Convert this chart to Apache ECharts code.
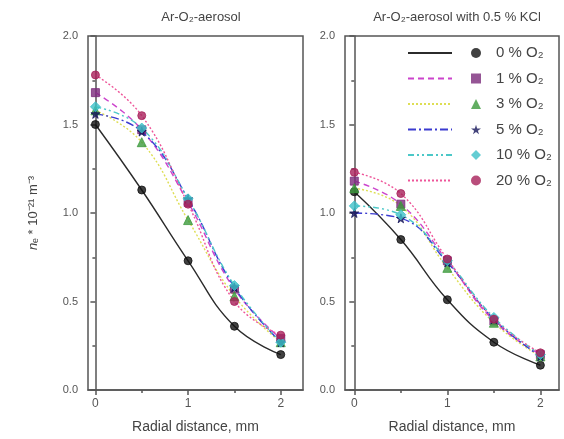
<!DOCTYPE html>
<html><head><meta charset="utf-8">
<script src="https://cdn.jsdelivr.net/npm/echarts@6/dist/echarts.min.js"></script>
<style>html,body{margin:0;padding:0;background:#fff}#c{width:564px;height:439px}</style>
</head><body><div id="c"></div>
<script>
// ---- data ----
const radial = [0, 0.5, 1, 1.5, 2];
const labels = ['0 % O₂', '1 % O₂', '3 % O₂', '5 % O₂', '10 % O₂', '20 % O₂'];
const titles = ['Ar-O₂-aerosol', 'Ar-O₂-aerosol with 0.5 % KCl'];
const xTicks = [0, 1, 2];
const xMinorTicks = [0.5, 1.5];
// left panel: Ar-O2-aerosol
const left0  = [1.50, 1.13, 0.73, 0.36, 0.20];
const left1  = [1.68, 1.47, 1.06, 0.57, 0.29];
const left3  = [1.58, 1.40, 0.96, 0.53, 0.27];
const left5  = [1.56, 1.46, 1.08, 0.58, 0.27];
const left10 = [1.60, 1.48, 1.08, 0.59, 0.27];
const left20 = [1.78, 1.55, 1.05, 0.50, 0.31];
// right panel: with 0.5 % KCl
const right0  = [1.12, 0.85, 0.51, 0.27, 0.14];
const right1  = [1.18, 1.05, 0.73, 0.39, 0.20];
const right3  = [1.14, 1.04, 0.69, 0.38, 0.19];
const right5  = [1.00, 0.97, 0.72, 0.40, 0.19];
const right10 = [1.04, 0.99, 0.73, 0.41, 0.20];
const right20 = [1.23, 1.11, 0.74, 0.40, 0.21];

// ---- styles ----
const STAR = 'path://M50,0 L61,35 L98,35 L68,57 L79,91 L50,70 L21,91 L32,57 L2,35 L39,35 Z';
const styles = [
  {line: '#2b2b2b', type: 'solid', mark: '#111111', symbol: 'circle', size: 8},
  {line: '#cc44cc', type: [6, 4], mark: '#7a2a7a', symbol: 'rect', size: 8},
  {line: '#dede55', type: [2, 2], mark: '#3c9a3c', symbol: 'triangle', size: 9},
  {line: '#3b3bd0', type: [8, 3, 2, 3], mark: '#15155a', symbol: STAR, size: 9},
  {line: '#4cc8c8', type: [6, 3, 2, 3, 2, 3], mark: '#3cc0c8', symbol: 'diamond', size: 10},
  {line: '#ee5599', type: [2, 2], mark: '#a8205a', symbol: 'circle', size: 8}
];
const panels = [[left0, left1, left3, left5, left10, left20], [right0, right1, right3, right5, right10, right20]];
const xRanges = [[-0.08, 2.24], [-0.1, 2.2]];
const FONT = 'Liberation Sans, Arial, sans-serif';

const grids = [
  {left: 88, top: 36, width: 215, height: 357},
  {left: 345, top: 36, width: 214, height: 357}
].map(g => Object.assign(g, {show: true, borderColor: '#555', borderWidth: 1.5, backgroundColor: 'transparent'}));

const xAxis = [], yAxis = [], series = [];
panels.forEach((p, gi) => {
  xAxis.push({
    type: 'value', gridIndex: gi, min: xRanges[gi][0], max: xRanges[gi][1],
    name: 'Radial distance, mm', nameLocation: 'middle', nameGap: 30,
    nameTextStyle: {fontSize: 14, color: '#444', fontFamily: FONT},
    axisLine: {lineStyle: {color: '#555', width: 1.5}},
    axisTick: {show: true, length: 5, customValues: xTicks, lineStyle: {color: '#555', width: 1.5}},
    axisLabel: {customValues: xTicks, color: '#555', fontSize: 12, margin: 8, fontFamily: FONT},
    splitLine: {show: false}
  });
  xAxis.push({
    type: 'value', gridIndex: gi, min: xRanges[gi][0], max: xRanges[gi][1], position: 'bottom',
    axisLine: {show: false},
    axisTick: {show: true, length: 3, customValues: xMinorTicks, lineStyle: {color: '#555', width: 1.5}},
    axisLabel: {show: false, customValues: xMinorTicks},
    splitLine: {show: false}
  });
  yAxis.push({
    type: 'value', gridIndex: gi, min: 0, max: 2, interval: 0.5,
    name: gi === 0 ? '{i|n}ₑ * 10⁻²¹ m⁻³' : '', nameLocation: 'middle', nameGap: 48,
    nameTextStyle: {fontSize: 13, color: '#444', fontFamily: FONT, rich: {i: {fontStyle: 'italic', fontSize: 13, color: '#444', fontFamily: FONT}}},
    axisLine: {show: true, lineStyle: {color: '#555', width: 1.5}},
    axisTick: {show: true, length: 5, lineStyle: {color: '#555', width: 1.5}},
    minorTick: {show: true, splitNumber: 2, length: 3, lineStyle: {color: '#555', width: 1.5}},
    axisLabel: {formatter: v => v.toFixed(1), color: '#555', fontSize: 11, margin: 10, fontFamily: FONT},
    splitLine: {show: false}
  });
  p.forEach((vals, si) => {
    const st = styles[si];
    const pts = radial.map((x, k) => [x, vals[k]]);
    series.push({
      type: 'line', name: 'fit' + si, xAxisIndex: gi * 2, yAxisIndex: gi, data: pts,
      smooth: 0.45, symbol: 'none', z: 2,
      lineStyle: {color: st.line, type: st.type, width: 1.4}, itemStyle: {color: st.line}
    });
    series.push({
      type: 'scatter', name: labels[si], xAxisIndex: gi * 2, yAxisIndex: gi, data: pts,
      symbol: st.symbol, symbolSize: st.size, z: 3,
      itemStyle: {color: st.mark, borderColor: st.mark}
    });
  });
});

const option = {
  animation: false,
  backgroundColor: '#fff',
  textStyle: {fontFamily: FONT},
  title: [
    {text: titles[0], left: 196, top: 6, textAlign: 'center', textStyle: {fontSize: 13, fontWeight: 'normal', color: '#444', fontFamily: FONT}},
    {text: titles[1], left: 452, top: 6, textAlign: 'center', textStyle: {fontSize: 13, fontWeight: 'normal', color: '#444', fontFamily: FONT}}
  ],
  grid: grids, xAxis, yAxis, series,
  legend: [
    {
      data: labels.map((l, i) => 'fit' + i), orient: 'vertical', left: 402, top: 40,
      itemWidth: 44, itemHeight: 10, itemGap: 9.5, selectedMode: false,
      itemStyle: {opacity: 0},
      formatter: () => ' ', textStyle: {fontSize: 15, lineHeight: 16}
    },
    {
      data: labels, orient: 'vertical', left: 466, top: 40,
      itemWidth: 10, itemHeight: 10, itemGap: 9.5, selectedMode: false,
      textStyle: {fontSize: 15, lineHeight: 16, color: '#444', fontFamily: FONT, padding: [0, 0, 0, 10]}
    }
  ]
};
echarts.init(document.getElementById('c')).setOption(option);
</script></body></html>
